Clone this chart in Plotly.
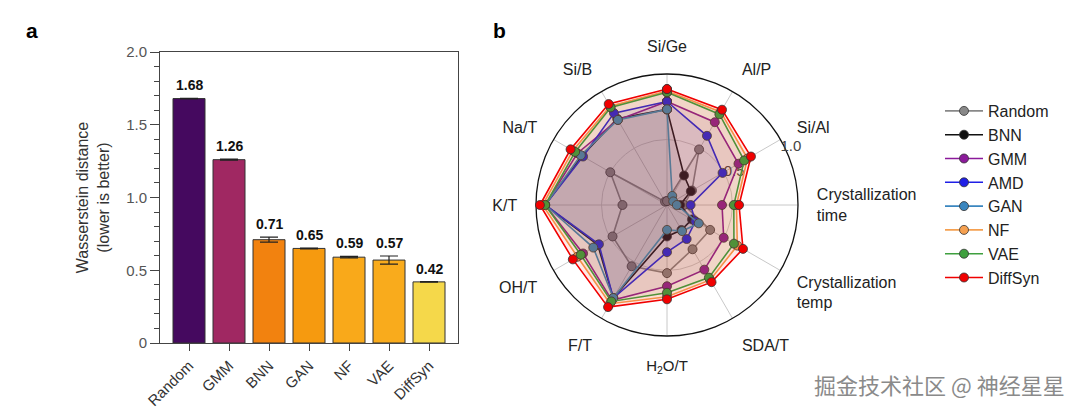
import plotly.graph_objects as go

# ---------------- Panel a data ----------------
bar_models = ["Random", "GMM", "BNN", "GAN", "NF", "VAE", "DiffSyn"]
bar_values = [1.68, 1.26, 0.71, 0.65, 0.59, 0.57, 0.42]
bar_errors = [0.002, 0.004, 0.017, 0.003, 0.005, 0.028, 0.002]
bar_colors = ["#45095f", "#a02862", "#f2820f", "#f69a0f", "#f9a91a", "#f9ab1c", "#f5d84a"]
y_tickvals = [0, 0.5, 1.0, 1.5, 2.0]
y_ticktext = ["0", "0.5", "1.0", "1.5", "2.0"]

# ---------------- Panel b data ----------------
radar_axes = ["Si/Ge", "Al/P", "Si/Al", "Crystallization<br>time", "Crystallization<br>temp",
              "SDA/T", "<span style='font-size:15px'>H<sub>2</sub>O/T</span>", "F/T", "OH/T",
              "K/T", "Na/T", "Si/B"]
series_names = ["Random", "BNN", "GMM", "AMD", "GAN", "NF", "VAE", "DiffSyn"]
random_vals = [0.03, 0.49, 0.22, 0.13, 0.38, 0.39, 0.52, 0.54, 0.48, 0.34, 0.50, 0.03]
bnn_vals = [0.73, 0.26, 0.21, 0.10, 0.22, 0.22, 0.24, 0.82, 0.61, 0.93, 0.75, 0.76]
gmm_vals = [0.79, 0.73, 0.63, 0.42, 0.50, 0.57, 0.62, 0.84, 0.74, 0.93, 0.79, 0.75]
amd_vals = [0.79, 0.61, 0.49, 0.18, 0.25, 0.30, 0.36, 0.82, 0.60, 0.93, 0.74, 0.81]
gan_vals = [0.73, 0.08, 0.055, 0.075, 0.28, 0.23, 0.19, 0.82, 0.65, 0.93, 0.76, 0.75]
nf_vals = [0.87, 0.82, 0.71, 0.53, 0.62, 0.66, 0.70, 0.87, 0.79, 0.95, 0.83, 0.87]
vae_vals = [0.86, 0.80, 0.68, 0.51, 0.59, 0.64, 0.67, 0.85, 0.76, 0.93, 0.81, 0.86]
diffsyn_vals = [0.885, 0.84, 0.74, 0.55, 0.67, 0.68, 0.72, 0.90, 0.83, 0.97, 0.85, 0.89]
series_values = [random_vals, bnn_vals, gmm_vals, amd_vals, gan_vals, nf_vals, vae_vals, diffsyn_vals]
series_colors = ["#888888", "#111111", "#8b1a9a", "#1f1fe6", "#3a86bf", "#f5a050", "#3fa03f", "#f00000"]
series_fill = ["rgba(136,136,136,0.08)", "rgba(0,0,0,0.07)", "rgba(128,0,128,0.08)",
               "rgba(0,0,255,0.07)", "rgba(31,119,180,0.07)", "rgba(255,127,14,0.09)",
               "rgba(44,160,44,0.07)", "rgba(255,0,0,0.09)"]
radial_tickvals = [0.5, 1.0]
radial_ticktext = ["0.5", "1.0"]

FONT = "Arial, Liberation Sans, sans-serif"
# page body has an 8px margin: the figure is drawn 8px in from the window corner
OFF = 8
W, H = 1080 - 2 * OFF, 420 - 2 * OFF


def fx(px):
    return (px - OFF) / W


def fy(py):
    return 1 - (py - OFF) / H


fig = go.Figure()

# bars
fig.add_trace(go.Bar(
    x=bar_models, y=bar_values, width=0.8,
    marker=dict(color=bar_colors, line=dict(color="#333333", width=1)),
    error_y=dict(type="data", array=bar_errors, color="#222222", thickness=1.2, width=9),
    showlegend=False, xaxis="x", yaxis="y",
))

for m, v, e in zip(bar_models, bar_values, bar_errors):
    fig.add_annotation(x=m, y=v + e, xref="x", yref="y", text=f"<b>{v:.2f}</b>",
                       showarrow=False, yanchor="bottom", yshift=3,
                       font=dict(family=FONT, size=14, color="#111111"))

# radial tick labels, written along the Si/Al spoke (under the series, as in the reference)
fig.add_trace(go.Scatterpolar(
    r=radial_tickvals, theta=[radar_axes[2]] * len(radial_tickvals), mode="text",
    text=radial_ticktext, textposition=["middle right", "bottom right"],
    textfont=dict(family=FONT, size=15, color="#444444"),
    showlegend=False, hoverinfo="skip", subplot="polar",
))

# radar series
for name, vals, col, fcol in zip(series_names, series_values, series_colors, series_fill):
    r = list(vals) + [vals[0]]
    th = list(radar_axes) + [radar_axes[0]]
    fig.add_trace(go.Scatterpolar(
        r=r, theta=th, mode="none", fill="toself", fillcolor=fcol,
        showlegend=False, hoverinfo="skip", subplot="polar",
    ))
    fig.add_trace(go.Scatterpolar(
        r=r, theta=th, mode="lines+markers", name=name,
        line=dict(color=col, width=1.6),
        marker=dict(size=9, color=col, line=dict(color="#333333", width=0.8)),
        subplot="polar",
    ))

CX, CY, R = 667, 205, 131

fig.update_layout(
    template="none",
    width=W, height=H,
    margin=dict(l=0, r=0, t=0, b=0, autoexpand=False),
    paper_bgcolor="white", plot_bgcolor="white",
    font=dict(family=FONT, size=15, color="#222222"),
    xaxis=dict(
        domain=[fx(160), fx(458)], range=[-0.725, 6.725], automargin=False,
        showline=True, linecolor="#444444", linewidth=1, mirror=True,
        ticks="outside", ticklen=7, tickcolor="#444444", tickangle=-45,
        tickfont=dict(family=FONT, size=15, color="#333333"),
        showgrid=False, zeroline=False,
    ),
    yaxis=dict(
        domain=[fy(343), fy(52)], range=[0, 2.0], automargin=False,
        tickmode="array", tickvals=y_tickvals, ticktext=y_ticktext,
        showline=True, linecolor="#444444", linewidth=1, mirror=True,
        ticks="outside", ticklen=9, tickcolor="#444444",
        minor=dict(tickmode="linear", tick0=0, dtick=0.1, ticks="outside", ticklen=5, tickcolor="#444444"),
        tickfont=dict(family=FONT, size=15, color="#555555"),
        title=dict(text="Wasserstein distance<br>(lower is better)", standoff=12,
                   font=dict(family=FONT, size=16, color="#333333")),
        showgrid=False, zeroline=False,
    ),
    polar=dict(
        domain=dict(x=[fx(CX - R), fx(CX + R)], y=[fy(CY + R), fy(CY - R)]),
        bgcolor="white",
        angularaxis=dict(
            rotation=90, direction="clockwise", type="category",
            categoryorder="array", categoryarray=radar_axes,
            showline=True, linecolor="#111111", linewidth=1.3,
            showgrid=True, gridcolor="#c8c8c8", gridwidth=1,
            ticks="outside", ticklen=15, tickcolor="rgba(0,0,0,0)",
            tickfont=dict(family=FONT, size=16, color="#222222"),
            layer="below traces",
        ),
        radialaxis=dict(
            range=[0, 1.0], angle=22.5,
            tickmode="array", tickvals=radial_tickvals, showticklabels=False,
            showline=False, ticks="",
            showgrid=True, gridcolor="#d0d0d0", gridwidth=1,
            layer="below traces",
        ),
    ),
    legend=dict(
        x=fx(940), y=fy(94), xanchor="left", yanchor="top",
        font=dict(family=FONT, size=16, color="#222222"),
        bgcolor="rgba(0,0,0,0)", borderwidth=0, itemwidth=38,
    ),
)

# panel labels
fig.add_annotation(x=fx(24), y=fy(30), xref="paper", yref="paper", text="<b>a</b>",
                   showarrow=False, xanchor="left", yanchor="middle",
                   font=dict(family=FONT, size=21, color="#000000"))
fig.add_annotation(x=fx(491), y=fy(30), xref="paper", yref="paper", text="<b>b</b>",
                   showarrow=False, xanchor="left", yanchor="middle",
                   font=dict(family=FONT, size=21, color="#000000"))
# watermark
fig.add_annotation(x=fx(1067), y=fy(384), xref="paper", yref="paper",
                   text="掘金技术社区 @ 神经星星", showarrow=False, xanchor="right", yanchor="middle",
                   font=dict(family="Noto Sans CJK SC", size=22, color="#8a8a8a"))

fig.write_html("out.html")
